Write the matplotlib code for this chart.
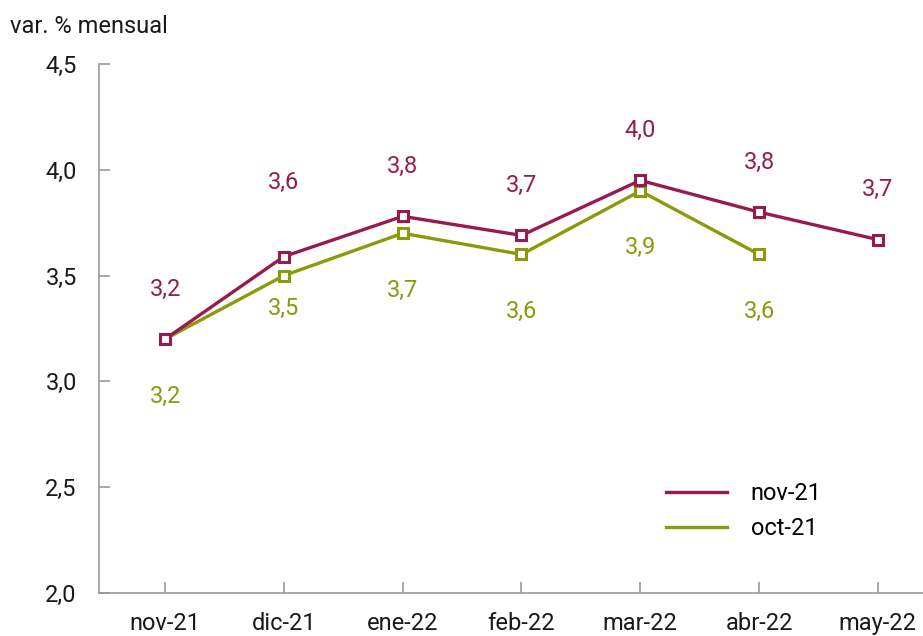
import matplotlib
matplotlib.use("Agg")
from matplotlib import pyplot as plt

plt.rcParams['font.family'] = ['Roboto', 'DejaVu Sans']

# data
months = ["nov-21", "dic-21", "ene-22", "feb-22", "mar-22", "abr-22", "may-22"]
nov21 = [3.20, 3.59, 3.78, 3.69, 3.95, 3.80, 3.67]
oct21 = [3.20, 3.50, 3.70, 3.60, 3.90, 3.60]
nov21_labels = ["3,2", "3,6", "3,8", "3,7", "4,0", "3,8", "3,7"]
oct21_labels = ["3,2", "3,5", "3,7", "3,6", "3,9", "3,6"]
yticks = [2.0, 2.5, 3.0, 3.5, 4.0, 4.5]

RED = "#981b4f"
GREEN = "#8a9a0b"
AXIS = "#9a9a9a"

fig = plt.figure(figsize=(9.23, 6.36), dpi=100)
ax = fig.add_axes([0.1073, 0.0676, 0.8927, 0.8318])

x = list(range(len(months)))
ax.plot(x, nov21, color=RED, lw=2.4, marker="s", ms=7.5, mfc="white",
        mec=RED, mew=2.2, label="nov-21", zorder=3)
ax.plot(x[:len(oct21)], oct21, color=GREEN, lw=2.4, marker="s", ms=7.5,
        mfc="white", mec=GREEN, mew=2.2, label="oct-21", zorder=2)

# value labels (dic-21 pair sits a bit differently in the original)
red_off = [36, 53, 36, 36, 36, 36, 36]
green_off = [-41, -24, -41, -41, -41, -41]
for i, (v, lab) in enumerate(zip(nov21, nov21_labels)):
    ax.annotate(lab, (i, v), xytext=(0, red_off[i]), textcoords="offset points",
                ha="center", va="center", color=RED, fontsize=17)
for i, (v, lab) in enumerate(zip(oct21, oct21_labels)):
    ax.annotate(lab, (i, v), xytext=(0, green_off[i]), textcoords="offset points",
                ha="center", va="center", color=GREEN, fontsize=17)

ax.set_ylim(2.0, 4.5)
ax.set_xlim(-0.556, 6.38)
ax.set_yticks(yticks)
ax.set_yticklabels([f"{t:.1f}".replace(".", ",") for t in yticks])
ax.set_xticks(x)
ax.set_xticklabels(months)

for side in ["top", "right"]:
    ax.spines[side].set_visible(False)
for side in ["left", "bottom"]:
    ax.spines[side].set_color(AXIS)
    ax.spines[side].set_linewidth(1.2)
ax.tick_params(axis="both", direction="in", length=8, width=1.2, color=AXIS,
               labelsize=17, labelcolor="#1a1a1a")
ax.tick_params(axis="y", pad=16)
ax.tick_params(axis="x", pad=14)

ax.legend(loc="lower right", bbox_to_anchor=(0.903, 0.06), frameon=False,
          fontsize=17, handlelength=2.6, handletextpad=1.0, labelspacing=0.5)
leg = ax.get_legend()
for h in leg.legend_handles:
    h.set_marker("")

fig.text(0.011, 0.948, "var. % mensual", fontsize=17, color="#1a1a1a",
         ha="left", va="baseline")

fig.savefig("out.png", dpi=100)
